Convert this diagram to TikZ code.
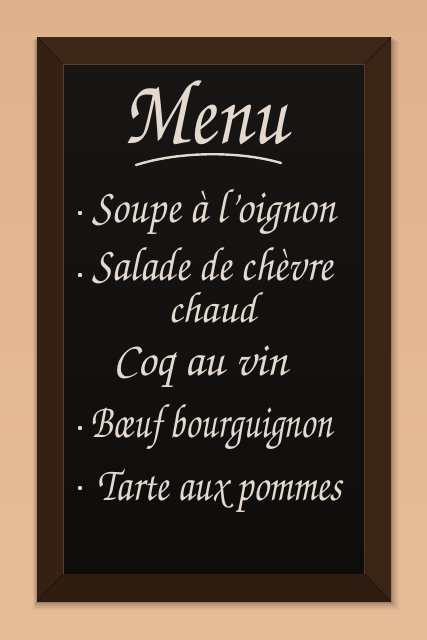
\documentclass[tikz,border=0pt]{standalone}
\usepackage[T1]{fontenc}
\definecolor{wallc}{HTML}{DFB28D}
\definecolor{wallb}{HTML}{E6BC98}
\definecolor{woodtop}{HTML}{3C2718}
\definecolor{woodleft}{HTML}{352113}
\definecolor{woodright}{HTML}{392416}
\definecolor{woodbot}{HTML}{301D11}
\definecolor{woodlip}{HTML}{5A3E2C}
\definecolor{boardtop}{HTML}{181614}
\definecolor{boardbot}{HTML}{0E0D0C}
\definecolor{chalkc}{HTML}{E4D9CF}
\newcommand\chalkfit[3][1.15]{\scalebox{#2}[#1]{#3}}
\begin{document}
\begin{tikzpicture}[x=1pt,y=-1pt,
  chalk/.style={text=chalkc, inner sep=0pt, anchor=base west,
    font=\fontfamily{pzc}\fontsize{42}{50}\selectfont},
  titlestyle/.style={text=chalkc, inner sep=0pt, anchor=base west,
    font=\fontfamily{pzc}\fontsize{78}{90}\selectfont},
  bulletdot/.style={fill=chalkc},
  chalkline/.style={draw=chalkc, line width=2.4pt, line cap=round}]
\useasboundingbox (0,0) rectangle (427,640);
\shade[top color=wallc, bottom color=wallb] (0,0) rectangle (427,640);
% shadow of the frame
\foreach \d/\o in {8/0.04,6/0.05,4/0.07,2/0.09}{
  \fill[black, opacity=\o] (37-\d/2,37+\d/2) rectangle (391+\d,602+\d);
}
% frame
\fill[woodtop] (37,37) -- (391,37) -- (364,65) -- (64,65) -- cycle;
\fill[woodleft] (37,37) -- (64,65) -- (64,573) -- (37,602) -- cycle;
\fill[woodright] (391,37) -- (391,602) -- (364,573) -- (364,65) -- cycle;
\fill[woodbot] (37,602) -- (64,573) -- (364,573) -- (391,602) -- cycle;
\draw[black!70!woodtop, line width=0.5pt] (37,37) -- (64,65) (391,37) -- (364,65)
  (37,602) -- (64,573) (391,602) -- (364,573);
\draw[woodlip, line width=1pt] (63.5,64.5) rectangle (364.5,573.5);
% board
\shade[top color=boardtop, bottom color=boardbot] (64,65) rectangle (364,573);
% title
\node[titlestyle] (title) at (123,143) {\scalebox{1}[1.2]{Menu}};
\draw[chalkline] (136,165) .. controls (180,151) and (240,151) .. (281,163);
% items
\fill[bulletdot] (80,213) circle (2.2);
\node[chalk] (soupe) at (92,222) {\chalkfit{1}{Soupe \`a l'oignon}};
\fill[bulletdot] (80,275) circle (2.2);
\node[chalk] (salade) at (92,280) {\chalkfit{1}{Salade de ch\`evre}};
\node[chalk] (chaud) at (168,322) {\chalkfit[1.05]{1}{chaud}};
\node[chalk] (coq) at (113,375) {\chalkfit{1.1}{Coq au vin}};
\fill[bulletdot] (80,428) circle (2.2);
\node[chalk] (boeuf) at (90,437) {\chalkfit{0.88}{B\oe uf bourguignon}};
\fill[bulletdot] (80,488) circle (2.2);
\node[chalk] (tarte) at (97,500) {\chalkfit{0.92}{Tarte aux pommes}};
\end{tikzpicture}
\end{document}
